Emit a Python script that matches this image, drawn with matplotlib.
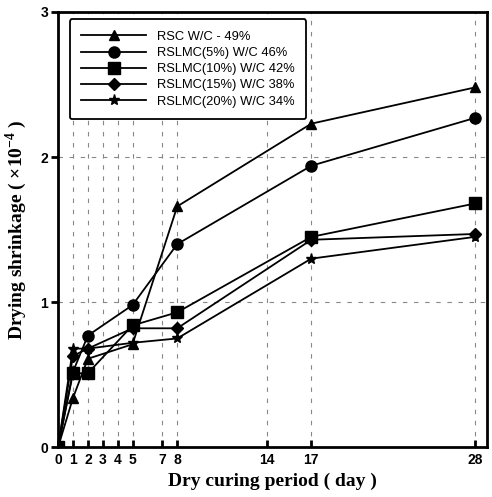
import matplotlib
matplotlib.use('Agg')
import matplotlib.pyplot as plt

plt.rcParams['mathtext.fontset'] = 'custom'
plt.rcParams['mathtext.rm'] = 'Liberation Serif:bold'
plt.rcParams['mathtext.bf'] = 'Liberation Serif:bold'

days = [0, 1, 2, 5, 8, 17, 28]
x_ticks = [0, 1, 2, 3, 4, 5, 7, 8, 14, 17, 28]
y_ticks = [0, 1, 2, 3]

rsc = [0, 0.34, 0.61, 0.71, 1.66, 2.23, 2.48]
rslmc5 = [0, 0.52, 0.77, 0.98, 1.40, 1.94, 2.27]
rslmc10 = [0, 0.51, 0.51, 0.84, 0.93, 1.45, 1.68]
rslmc15 = [0, 0.63, 0.68, 0.82, 0.82, 1.43, 1.47]
rslmc20 = [0, 0.68, 0.68, 0.72, 0.75, 1.30, 1.45]

labels = ['RSC W/C - 49%', 'RSLMC(5%) W/C 46%', 'RSLMC(10%) W/C 42%',
          'RSLMC(15%) W/C 38%', 'RSLMC(20%) W/C 34%']
markers = ['^', 'o', 's', 'D', '*']
sizes = [7, 8, 8, 6, 8]

fig = plt.figure(figsize=(4.92, 4.97), dpi=100)
ax = fig.add_axes([0.118, 0.1, 0.872, 0.876])

for y, lab, m, s in zip([rsc, rslmc5, rslmc10, rslmc15, rslmc20], labels, markers, sizes):
  ax.plot(days, y, color='black', marker=m, markersize=s, linewidth=1.3, label=lab)

ax.set_xlim(0, 28.8)
ax.set_ylim(0, 3)
ax.set_xticks(x_ticks)
ax.set_yticks(y_ticks)
ax.grid(True, color='#888888', linestyle=(0, (4, 6)), linewidth=0.8)

for sp in ax.spines.values():
  sp.set_linewidth(2)
ax.tick_params(axis='x', direction='in', length=5, width=2, pad=4)
ax.tick_params(axis='y', direction='out', length=5, width=2, pad=2)
for t in ax.get_xticklabels() + ax.get_yticklabels():
  t.set_fontfamily('Liberation Sans')
  t.set_fontweight('bold')
  t.set_fontsize(10)

ax.set_xlabel('Dry curing period ( day )', fontfamily='Liberation Serif',
              fontweight='bold', fontsize=14, labelpad=4)
ax.set_ylabel('Drying shrinkage ( $\\times$10$^{-4}$ )', fontfamily='Liberation Serif',
              fontweight='bold', fontsize=14, labelpad=8)

leg = ax.legend(loc='upper left', bbox_to_anchor=(0.012, 0.998), fancybox=True,
                framealpha=1, edgecolor='black', handlelength=5.0, handletextpad=0.85,
                labelspacing=0.32, borderpad=0.9,
                prop={'family': 'Liberation Sans', 'size': 9.3})
leg.get_frame().set_linewidth(1.3)

fig.savefig('out.png', dpi=100)
